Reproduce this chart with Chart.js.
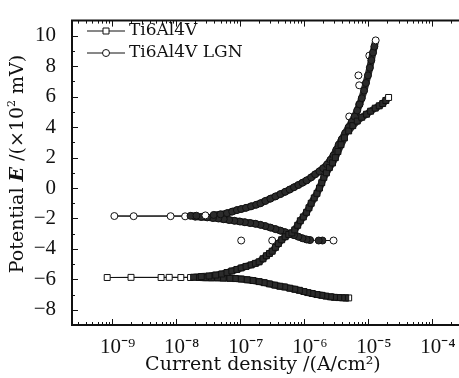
<!DOCTYPE html>
<html>
<head>
<meta charset="utf-8">
<script src="https://cdn.jsdelivr.net/npm/chart.js@4.4.0/dist/chart.umd.min.js"></script>
<style>
  html, body { margin: 0; padding: 0; background: #fff; }
</style>
</head>
<body>
<canvas id="chart" width="459" height="378"></canvas>
<script>
// Ti6Al4V: cathodic branch (high current -> Ecorr), then anodic branch
const tiCurrent = [
  5.0e-6, 4.5e-6, 4.0e-6, 3.5e-6, 3.0e-6, 2.6e-6, 2.2e-6, 1.9e-6, 1.6e-6, 1.35e-6,
  1.15e-6, 1.0e-6, 8.5e-7, 7.2e-7, 6.0e-7, 5.0e-7, 4.2e-7, 3.5e-7, 2.9e-7, 2.4e-7,
  2.0e-7, 1.6e-7, 1.3e-7, 1.05e-7, 8.5e-8, 7.0e-8, 5.5e-8, 4.5e-8, 3.6e-8, 2.9e-8,
  2.3e-8, 1.7e-8, 1.2e-8, 7.9e-9, 5.9e-9, 2.0e-9, 8.5e-10,
  1.9e-8, 2.5e-8, 3.3e-8, 4.2e-8, 5.2e-8, 6.3e-8, 7.5e-8, 9.0e-8, 1.05e-7,
  1.25e-7, 1.5e-7, 1.75e-7, 2.0e-7, 2.3e-7, 2.6e-7, 2.9e-7, 3.2e-7, 3.6e-7, 4.0e-7,
  4.5e-7, 5.1e-7, 5.8e-7, 6.5e-7, 7.2e-7, 8.0e-7, 8.8e-7, 9.8e-7, 1.1e-6, 1.2e-6,
  1.3e-6, 1.45e-6, 1.6e-6, 1.75e-6, 1.9e-6, 2.05e-6, 2.25e-6, 2.5e-6, 2.8e-6, 3.1e-6,
  3.4e-6, 3.8e-6, 4.3e-6, 5.0e-6, 5.8e-6, 6.8e-6, 8.0e-6, 9.5e-6, 1.1e-5, 1.3e-5,
  1.5e-5, 1.7e-5, 1.9e-5, 2.1e-5
];
const tiPotential = [
  -7.22, -7.22, -7.21, -7.2, -7.18, -7.15, -7.1, -7.05, -7.0, -6.93,
  -6.87, -6.8, -6.72, -6.65, -6.58, -6.5, -6.45, -6.38, -6.3, -6.22,
  -6.15, -6.08, -6.03, -5.98, -5.95, -5.93, -5.92, -5.9, -5.9, -5.89,
  -5.88, -5.88, -5.88, -5.87, -5.88, -5.87, -5.88,
  -5.86, -5.82, -5.78, -5.72, -5.65, -5.55, -5.45, -5.35, -5.25,
  -5.15, -5.05, -4.95, -4.85, -4.65, -4.45, -4.3, -4.15, -3.9, -3.65,
  -3.4, -3.2, -3.05, -2.95, -2.75, -2.45, -2.15, -1.9, -1.6, -1.3,
  -1.0, -0.65, -0.35, 0.0, 0.35, 0.7, 1.0, 1.35, 1.65, 2.0,
  2.4, 2.85, 3.3, 3.75, 4.1, 4.4, 4.65, 4.85, 5.05, 5.25,
  5.4, 5.55, 5.75, 5.95
];

// Ti6Al4V LGN
const lgnCurrent = [
  2.9e-6, 1.95e-6, 1.7e-6, 1.25e-6, 1.1e-6, 9.5e-7, 8.2e-7, 7.0e-7, 6.0e-7,
  5.1e-7, 4.3e-7, 3.6e-7, 3.0e-7, 2.5e-7, 2.1e-7, 1.75e-7, 1.45e-7, 1.2e-7, 1.0e-7,
  8.2e-8, 6.8e-8, 5.6e-8, 4.6e-8, 3.8e-8, 3.1e-8, 2.5e-8, 2.0e-8, 1.4e-8, 8.3e-9,
  2.2e-9, 1.1e-9,
  1.7e-8, 2.1e-8, 2.9e-8, 3.9e-8, 5.0e-8, 6.3e-8, 7.6e-8, 9.0e-8, 1.05e-7, 1.25e-7,
  1.5e-7, 1.8e-7, 2.1e-7, 2.5e-7, 3.0e-7, 3.6e-7, 4.3e-7, 5.1e-7, 6.0e-7, 7.0e-7,
  8.2e-7, 9.5e-7, 1.1e-6, 1.3e-6, 1.5e-6, 1.75e-6, 2.0e-6, 2.3e-6, 2.6e-6, 2.9e-6,
  3.2e-6, 3.5e-6, 3.9e-6, 4.4e-6, 5.0e-6, 5.6e-6, 6.2e-6, 6.8e-6, 7.4e-6, 8.0e-6,
  8.7e-6, 9.3e-6, 1.0e-5, 1.07e-5, 1.13e-5, 1.2e-5, 1.26e-5, 1.32e-5
];
const lgnPotential = [
  -3.45, -3.45, -3.45, -3.42, -3.38, -3.3, -3.2, -3.1, -3.0,
  -2.9, -2.8, -2.7, -2.6, -2.5, -2.42, -2.35, -2.3, -2.25, -2.2,
  -2.15, -2.1, -2.05, -2.0, -1.97, -1.93, -1.9, -1.88, -1.86, -1.85,
  -1.85, -1.84,
  -1.83, -1.82, -1.8, -1.77, -1.73, -1.65, -1.55, -1.45, -1.38, -1.3,
  -1.2, -1.1, -1.0, -0.85, -0.7, -0.55, -0.4, -0.25, -0.1, 0.05,
  0.2, 0.35, 0.5, 0.7, 0.9, 1.1, 1.3, 1.55, 1.85, 2.15,
  2.5, 2.85, 3.2, 3.6, 4.0, 4.35, 4.7, 5.1, 5.5, 5.9,
  6.4, 6.9, 7.4, 7.9, 8.4, 8.9, 9.3, 9.7
];
// stray LGN points with no connecting line
const lgnStrayCurrent = [1.05e-7, 3.2e-7, 7.1e-6, 7.3e-6, 7.3e-6, 5.1e-6, 1.05e-5];
const lgnStrayPotential = [-3.45, -3.45, 7.4, 6.75, 5.5, 4.7, 8.7];

const xDecades = [-9, -8, -7, -6, -5, -4];
const yTicks = [-8, -6, -4, -2, 0, 2, 4, 6, 8, 10];
const seriesNames = ['Ti6Al4V', 'Ti6Al4V LGN'];

const TICK_FONT = "'Liberation Serif', serif";
const TEXT_FONT = "'DejaVu Serif', serif";
const INK = '#111';
const BAND = '#2b2b2b';
const DENSE = 8; // px gap below which markers merge into a band

const supMap = { '-': '\u207B', '0': '\u2070', '1': '\u00B9', '2': '\u00B2', '3': '\u00B3', '4': '\u2074', '5': '\u2075', '6': '\u2076', '7': '\u2077', '8': '\u2078', '9': '\u2079' };
const sup = (s) => String(s).split('').map(c => supMap[c]).join('');

const pts = (xs, ys) => xs.map((v, i) => ({ x: v, y: ys[i] }));

// pixel gap to the nearest neighbour in the trace (ends of a trace count as open)
function neighbourGap(ctx) {
  const data = ctx.dataset.data;
  const i = ctx.dataIndex;
  const { x, y } = ctx.chart.scales;
  if (!x || !y || !data[i] || i === 0 || i === data.length - 1) return 99;
  const px = (d) => [x.getPixelForValue(d.x), y.getPixelForValue(d.y)];
  const [x0, y0] = px(data[i]);
  let best = 99;
  [i - 1, i + 1].forEach(j => {
    const [x1, y1] = px(data[j]);
    best = Math.min(best, Math.hypot(x1 - x0, y1 - y0));
  });
  return best;
}
const segLen = (ctx) => Math.hypot(ctx.p1.x - ctx.p0.x, ctx.p1.y - ctx.p0.y);

function drawMarker(ctx, style, x, y) {
  ctx.beginPath();
  if (style === 'rect') ctx.rect(x - 3, y - 3, 6, 6);
  else ctx.arc(x, y, 3.5, 0, Math.PI * 2);
  ctx.fillStyle = '#fff';
  ctx.fill();
  ctx.stroke();
}

// frame (right side runs off the picture), inward ticks, legend and y title
const decor = {
  id: 'decor',
  afterDatasetsDraw(chart) {
    const { ctx, chartArea: a, scales: { x, y } } = chart;
    const W = chart.width;
    ctx.save();
    ctx.strokeStyle = INK;
    ctx.lineWidth = 1;
    ctx.beginPath();
    for (let e = -10; e <= -4; e++) {
      for (let m = 1; m < 10; m++) {
        const v = m * Math.pow(10, e);
        if (v < x.min || v > x.max) continue;
        const px = Math.round(x.getPixelForValue(v)) + 0.5;
        const len = m === 1 ? 6 : 3;
        ctx.moveTo(px, a.bottom); ctx.lineTo(px, a.bottom - len);
        ctx.moveTo(px, a.top); ctx.lineTo(px, a.top + len);
      }
    }
    for (let v = -8; v <= 10; v++) {
      const py = Math.round(y.getPixelForValue(v)) + 0.5;
      const len = v % 2 === 0 ? 6 : 3;
      ctx.moveTo(a.left, py); ctx.lineTo(a.left + len, py);
    }
    ctx.stroke();
    ctx.lineWidth = 2;
    ctx.beginPath();
    ctx.moveTo(W, a.top); ctx.lineTo(a.left, a.top);
    ctx.lineTo(a.left, a.bottom); ctx.lineTo(W, a.bottom);
    ctx.stroke();

    // legend
    const styles = ['rect', 'circle'];
    seriesNames.forEach((name, i) => {
      const ly = 31 + i * 22;
      ctx.lineWidth = 1;
      ctx.beginPath();
      ctx.moveTo(87, ly); ctx.lineTo(125, ly);
      ctx.stroke();
      drawMarker(ctx, styles[i], 106, ly);
      ctx.fillStyle = INK;
      ctx.font = '17px ' + TEXT_FONT;
      ctx.textBaseline = 'middle';
      ctx.textAlign = 'left';
      ctx.fillText(name, 129, ly);
    });

    // y axis title with italic E
    const parts = [
      { t: 'Potential ', f: '19px ' + TEXT_FONT, dy: 0 },
      { t: 'E', f: 'italic bold 19px ' + TEXT_FONT, dy: 0 },
      { t: ' /(\u00D710', f: '19px ' + TEXT_FONT, dy: 0 },
      { t: '2', f: '11px ' + TEXT_FONT, dy: -6 },
      { t: ' mV)', f: '19px ' + TEXT_FONT, dy: 0 }
    ];
    let total = 0;
    parts.forEach(p => { ctx.font = p.f; p.w = ctx.measureText(p.t).width; total += p.w; });
    ctx.translate(18, 164);
    ctx.rotate(-Math.PI / 2);
    ctx.textBaseline = 'middle';
    ctx.textAlign = 'left';
    ctx.fillStyle = INK;
    let cx = -total / 2;
    parts.forEach(p => { ctx.font = p.f; ctx.fillText(p.t, cx, p.dy); cx += p.w; });
    ctx.restore();
  }
};

const common = {
  showLine: true,
  borderColor: INK,
  borderWidth: 1,
  backgroundColor: '#fff',
  pointBorderColor: INK,
  pointBorderWidth: 1,
  pointBackgroundColor: (ctx) => neighbourGap(ctx) < DENSE ? BAND : '#fff',
  segment: {
    borderWidth: (ctx) => segLen(ctx) < DENSE ? 7 : 1,
    borderColor: (ctx) => segLen(ctx) < DENSE ? BAND : INK
  }
};

new Chart(document.getElementById('chart'), {
  type: 'scatter',
  data: {
    datasets: [
      { ...common, label: seriesNames[0], data: pts(tiCurrent, tiPotential), pointStyle: 'rect', pointRadius: 4.2 },
      { ...common, label: seriesNames[1], data: pts(lgnCurrent, lgnPotential), pointStyle: 'circle', pointRadius: 3.5 },
      { ...common, label: 'stray', showLine: false, pointBackgroundColor: '#fff', data: pts(lgnStrayCurrent, lgnStrayPotential), pointStyle: 'circle', pointRadius: 3.5 }
    ]
  },
  options: {
    responsive: false,
    animation: false,
    layout: { padding: { top: 11, right: 1, left: 0, bottom: 0 } },
    plugins: { legend: { display: false }, tooltip: { enabled: false } },
    scales: {
      x: {
        type: 'logarithmic',
        min: Math.pow(10, -9.62),
        max: Math.pow(10, -3.66),
        grid: { display: false },
        border: { display: false },
        afterBuildTicks: (s) => { s.ticks = xDecades.map(e => ({ value: Math.pow(10, e) })); },
        afterFit: (s) => { s.height = 53; },
        ticks: {
          autoSkip: false,
          maxRotation: 0,
          padding: 2,
          labelOffset: 6,
          color: INK,
          font: { family: TICK_FONT, size: 21 },
          callback: (v) => '10' + sup(Math.round(Math.log10(v)))
        },
        title: {
          display: true,
          text: 'Current density /(A/cm\u00B2)',
          color: INK,
          font: { family: TEXT_FONT, size: 19 },
          padding: { top: 0, bottom: 2 }
        }
      },
      y: {
        min: -9,
        max: 11,
        grid: { display: false },
        border: { display: false },
        afterBuildTicks: (s) => { s.ticks = yTicks.map(v => ({ value: v })); },
        afterFit: (s) => { s.width = 72; },
        ticks: {
          padding: 8,
          color: INK,
          font: { family: TICK_FONT, size: 21 },
          callback: (v) => v < 0 ? '\u2212' + (-v) : String(v)
        }
      }
    }
  },
  plugins: [decor]
});
</script>
</body>
</html>
